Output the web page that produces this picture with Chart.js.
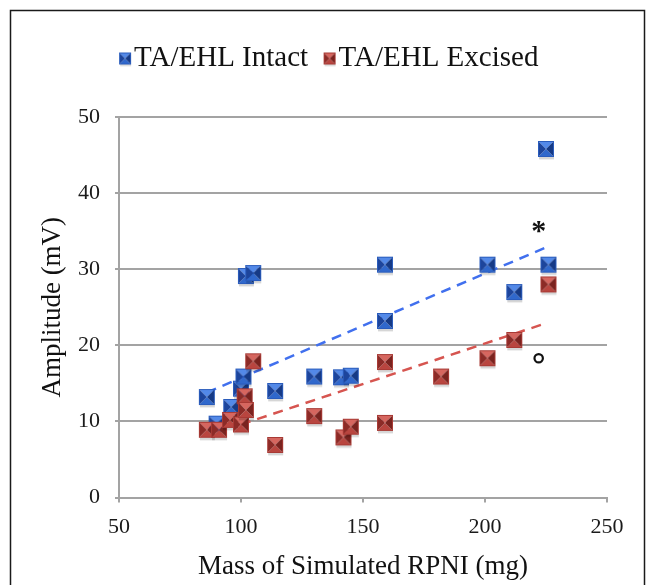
<!DOCTYPE html>
<html>
<head>
<meta charset="utf-8">
<script src="https://cdn.jsdelivr.net/npm/chart.js@4"></script>
<style>
  body { margin: 0; background: #fff; }
  #wrap { position: relative; width: 655px; height: 585px; }
</style>
</head>
<body>
<div id="wrap"><canvas id="rpni"></canvas></div>
<script>
// values
const intactMass = [86, 90, 96, 100, 101, 102, 105, 114, 130, 141, 145, 159, 159, 201, 212, 225, 226];
const intactAmp = [13.2, 9.7, 11.9, 14.3, 15.9, 29.1, 29.5, 14.0, 15.9, 15.8, 16.0, 23.2, 30.6, 30.6, 27.0, 45.8, 30.6];

const excisedMass = [86, 91, 95.5, 100, 101.5, 102, 105, 114, 130, 142, 145, 159, 159, 182, 201, 212, 226];
const excisedAmp = [8.9, 8.9, 10.2, 9.6, 13.3, 11.5, 17.9, 6.9, 10.7, 7.9, 9.3, 9.8, 17.8, 15.9, 18.3, 20.7, 28.0];

// linear trend lines (end points)
const intactFitMass = [86, 226];
const intactFitAmp = [13.8, 33.0];
const excisedFitMass = [100, 225];
const excisedFitAmp = [9.6, 22.9];

// significance marks above / below the 225 mg pair
const markMass = [222, 222];
const markAmp = [35.5, 18.3];
const markText = ["*", "o"];

const xTicks = [50, 100, 150, 200, 250];
const yTicks = [0, 10, 20, 30, 40, 50];

const serif = "'Liberation Serif', 'Times New Roman', serif";

// bevelled square marker like the spreadsheet one
function makeMarker(size, c, extraLeft) {
  extraLeft = extraLeft || 0;
  const pad = Math.round(size * 0.2);
  const cv = document.createElement("canvas");
  cv.width = size + 2 + extraLeft;
  cv.height = size + 2 + pad * 2;
  const ctx = cv.getContext("2d");
  const x0 = 1 + extraLeft, y0 = pad + 1, x1 = x0 + size, y1 = y0 + size;
  const cx = x0 + size / 2, cy = y0 + size / 2;
  ctx.fillStyle = "rgba(0,0,0,0.16)";
  ctx.fillRect(x0 + 1, y1, size - 1, pad * 0.8);
  const tri = (pts, col) => {
    ctx.beginPath();
    ctx.moveTo(pts[0], pts[1]);
    ctx.lineTo(pts[2], pts[3]);
    ctx.lineTo(cx, cy);
    ctx.closePath();
    ctx.fillStyle = col;
    ctx.fill();
  };
  tri([x0, y0, x1, y0], c.top);
  tri([x0, y1, x1, y1], c.bottom);
  tri([x0, y0, x0, y1], c.left);
  tri([x1, y0, x1, y1], c.right);
  ctx.strokeStyle = c.edge;
  ctx.lineWidth = 1;
  ctx.strokeRect(x0 + 0.5, y0 + 0.5, size - 1, size - 1);
  return cv;
}

const blueCols = { top: "#5389e8", bottom: "#3068cc", left: "#1d459c", right: "#163a86", edge: "#2a5cbc" };
const redCols = { top: "#d6665f", bottom: "#b9453f", left: "#8c2b27", right: "#7a231f", edge: "#a83a35" };

const blueMarker = makeMarker(16, blueCols);
const redMarker = makeMarker(16, redCols);
const legendMarkers = [makeMarker(12, blueCols, 13), makeMarker(12, redCols, 13)];

function toPoints(xs, ys) {
  return xs.map((x, i) => ({ x: x, y: ys[i] }));
}

// fixed legend height so the plot starts where the reference does
const legendHeight = {
  id: "legendHeight",
  beforeLayout(chart) {
    const lg = chart.legend;
    if (lg && !lg._patched) {
      const fit = lg.fit;
      lg.fit = function () {
        fit.call(this);
        this.height = 87;
      };
      lg._patched = true;
    }
  },
};

const frame = {
  id: "frame",
  beforeDraw(chart) {
    const ctx = chart.ctx;
    ctx.save();
    ctx.strokeStyle = "#1a1a1a";
    ctx.lineWidth = 1.5;
    ctx.strokeRect(10.5, 10.5, 634, 620);
    ctx.restore();
  },
};

const marks = {
  id: "marks",
  afterDatasetsDraw(chart) {
    const ctx = chart.ctx;
    const xs = chart.scales.x, ys = chart.scales.y;
    ctx.save();
    for (let i = 0; i < markText.length; i++) {
      const px = xs.getPixelForValue(markMass[i]);
      const py = ys.getPixelForValue(markAmp[i]);
      ctx.fillStyle = "#111";
      ctx.strokeStyle = "#111";
      if (markText[i] == "o") {
        ctx.lineWidth = 2.2;
        ctx.beginPath();
        ctx.arc(px, py, 4.2, 0, Math.PI * 2);
        ctx.stroke();
      } else {
        ctx.font = "bold 30px " + serif;
        ctx.textAlign = "center";
        ctx.textBaseline = "middle";
        ctx.fillText(markText[i], px, py + 5);
      }
    }
    ctx.restore();
  },
};

const gridGray = "#a3a3a3";

new Chart(document.getElementById("rpni"), {
  type: "scatter",
  data: {
    datasets: [
      {
        label: "TA/EHL Excised",
        data: toPoints(excisedMass, excisedAmp),
        pointStyle: redMarker,
        order: 0,
      },
      {
        label: "TA/EHL Intact",
        data: toPoints(intactMass, intactAmp),
        pointStyle: blueMarker,
        order: 1,
      },
      {
        type: "line",
        label: "Intact trend",
        data: toPoints(intactFitMass, intactFitAmp),
        borderColor: "#4170ee",
        borderWidth: 2.5,
        borderDash: [10, 7],
        pointRadius: 0,
        order: 2,
      },
      {
        type: "line",
        label: "Excised trend",
        data: toPoints(excisedFitMass, excisedFitAmp),
        borderColor: "#d65550",
        borderWidth: 2.5,
        borderDash: [10, 7],
        pointRadius: 0,
        order: 3,
      },
    ],
  },
  options: {
    responsive: true,
    maintainAspectRatio: false,
    animation: false,
    layout: { padding: { top: 30, left: 49, right: 48, bottom: 0 } },
    plugins: {
      tooltip: { enabled: false },
      legend: {
        position: "top",
        labels: {
          usePointStyle: true,
          pointStyleWidth: 2,
          padding: 14,
          color: "#111",
          font: { family: serif, size: 29 },
          generateLabels(chart) {
            return [0, 1].map((i) => ({
              text: i == 0 ? "TA/EHL Intact" : "TA/EHL Excised",
              pointStyle: legendMarkers[i],
              datasetIndex: i == 0 ? 1 : 0,
              fontColor: "#111",
              hidden: false,
              lineWidth: 0,
            }));
          },
        },
      },
    },
    scales: {
      x: {
        type: "linear",
        min: 50,
        max: 250,
        afterBuildTicks(scale) {
          scale.ticks = xTicks.map((v) => ({ value: v }));
        },
        afterFit(scale) {
          scale.height = 87.5;
        },
        grid: { drawOnChartArea: false, drawTicks: true, tickLength: 5, color: gridGray, lineWidth: 2 },
        border: { color: gridGray, width: 2 },
        ticks: { color: "#1a1a1a", padding: 12, font: { family: serif, size: 22 } },
        title: {
          display: true,
          text: "Mass of Simulated RPNI (mg)",
          color: "#111",
          font: { family: serif, size: 27 },
          padding: { bottom: 2 },
        },
      },
      y: {
        min: 0,
        max: 50,
        afterBuildTicks(scale) {
          scale.ticks = yTicks.map((v) => ({ value: v }));
        },
        afterFit(scale) {
          scale.width = 70;
        },
        grid: { color: gridGray, lineWidth: 2, tickLength: 4 },
        border: { color: gridGray, width: 2 },
        ticks: { color: "#1a1a1a", padding: 15, font: { family: serif, size: 22 } },
        title: {
          display: true,
          text: "Amplitude (mV)",
          color: "#111",
          font: { family: serif, size: 27 },
          padding: { top: -12 },
        },
      },
    },
  },
  plugins: [legendHeight, frame, marks],
});
</script>
</body>
</html>
